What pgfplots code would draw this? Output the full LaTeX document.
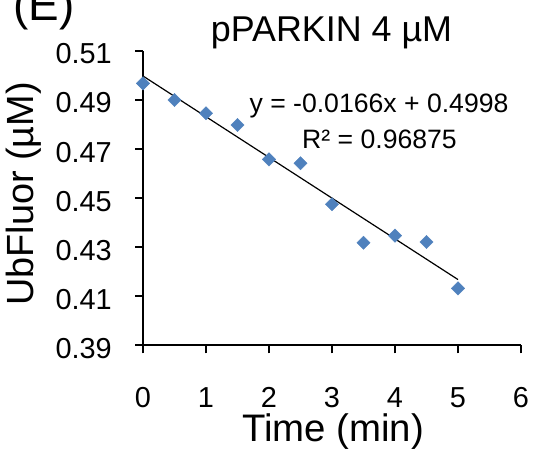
\documentclass[border=0pt]{standalone}
\usepackage{pgfplots}
\pgfplotsset{compat=1.18}
\usepackage{fontspec}
\setmainfont{Liberation Sans}
\definecolor{exblue}{RGB}{79,129,189}
\begin{document}
\begin{tikzpicture}[x=1bp,y=1bp]
\path[use as bounding box] (0,0) rectangle (534,453);
\begin{axis}[
  at={(143bp,107.7bp)}, anchor=south west,
  scale only axis, width=378bp, height=294.3bp,
  xmin=0, xmax=6, ymin=0.39, ymax=0.51,
  xtick={0,1,2,3,4,5,6},
  ytick={0.39,0.41,0.43,0.45,0.47,0.49,0.51},
  axis x line*=bottom, axis y line*=left,
  axis line style={line width=2.4bp, -},
  tick align=outside, major tick length=8bp,
  tick style={line width=2.4bp, black},
  /pgf/number format/assume math mode=true,
  yticklabel style={/pgf/number format/.cd, fixed, fixed zerofill, precision=2, /tikz/.cd, anchor=east, inner sep=0pt, xshift=-31bp+8bp, yshift=-3bp},
  xticklabel style={anchor=center, yshift=-44bp},
  ticklabel style={font=\fontsize{29}{32}\selectfont},
  clip=false,
]
\addplot[only marks, mark=square*, mark size=4.7bp, mark options={rotate=45, fill=exblue, draw=exblue}]
  coordinates {(0,0.4968) (0.5,0.4900) (1,0.4846) (1.5,0.4798) (2,0.4658) (2.5,0.4642) (3,0.4475) (3.5,0.4318) (4,0.4347) (4.5,0.4321) (5,0.4132)};
\addplot[black, line width=1.2bp] coordinates {(0,0.4998) (5,0.4168)};
\end{axis}
\node[anchor=base west, font=\fontsize{46}{46}\selectfont, inner sep=0pt] at (13,432) {(E)};
\node[anchor=base, font=\fontsize{36}{40}\selectfont, inner sep=0pt] at (331.5,411.3) {pPARKIN 4 µM};
\node[anchor=base, font=\fontsize{38.5}{40}\selectfont, inner sep=0pt] at (333,11.3) {Time (min)};
\node[anchor=center, rotate=90, font=\fontsize{38}{40}\selectfont, inner sep=0pt] at (24,259) {UbFluor (µM)};
\node[anchor=base, font=\fontsize{26.7}{30}\selectfont, inner sep=0pt] at (379,340) {y = -0.0166x + 0.4998};
\node[anchor=base, font=\fontsize{26.7}{30}\selectfont, inner sep=0pt] at (379.5,304.7) {R² = 0.96875};
\end{tikzpicture}
\end{document}
